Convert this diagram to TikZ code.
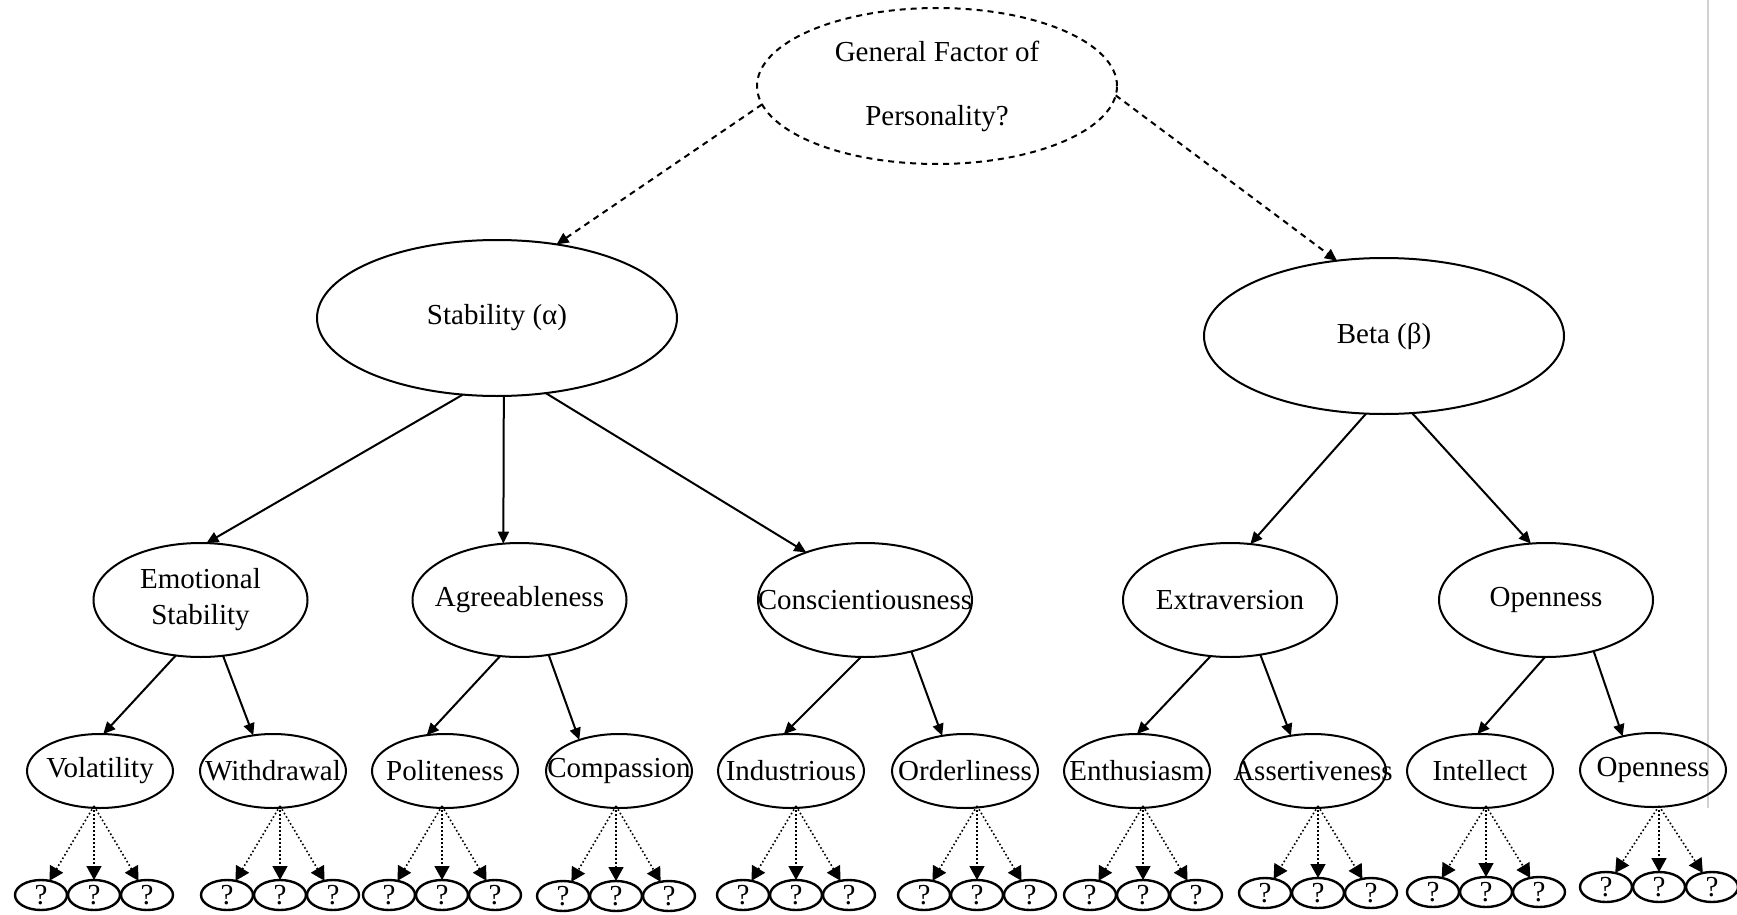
\documentclass[tikz,border=0pt]{standalone}
\usepackage{fontspec}
\setmainfont{Liberation Serif}
\usetikzlibrary{shapes.geometric,arrows.meta}

\begin{document}
\begin{tikzpicture}[x=1pt,y=-1pt,
  every node/.style={font=\fontsize{29}{36}\selectfont},
  % ellipses keep their given size whatever the text inside
  oval/.style={ellipse, draw, line width=2pt, inner xsep=-90pt, inner ysep=-45pt,
               outer sep=0pt, align=center},
  topfactor/.style={oval, minimum width=360pt, minimum height=156pt},
  guessfactor/.style={topfactor, dash pattern=on 6pt off 5pt,
               font=\fontsize{29}{64}\selectfont},
  bigfive/.style={oval, minimum width=214pt, minimum height=114pt},
  aspect/.style={oval, minimum width=146pt, minimum height=74pt},
  unknown/.style={oval, line width=2.4pt, minimum width=52pt, minimum height=30pt},
  solidarr/.style={draw, line width=2pt, -{Triangle[length=12pt,width=11pt]}},
  dasharr/.style={solidarr, dash pattern=on 6pt off 5pt},
  dotarr/.style={draw, line width=1.6pt, dash pattern=on 1.6pt off 2.4pt,
                 -{Triangle[length=14pt,width=15pt]}},
]
\useasboundingbox (0,0) rectangle (1737,915);

% page edge rule
\draw[black!18, line width=2pt] (1708,0) -- (1708,808);

% top of the hierarchy
\node[guessfactor] (gfp) at (937,86) {General Factor of\\Personality?};

% higher-order factors
\node[topfactor] (stab) at (497,318) {Stability (α)};
\node[topfactor] (beta) at (1384,336) {Beta (β)};

% Big Five domains
\node[bigfive] (emo) at (200.5,600) {Emotional\\Stability};
\node[bigfive] (agr) at (519.5,600) {Agreeableness};
\node[bigfive] (con) at (865,600) {Conscientiousness};
\node[bigfive] (ext) at (1230,600) {Extraversion};
\node[bigfive] (ope) at (1546,600) {Openness};

% aspects
\node[aspect] (vol) at (100,771) {Volatility};
\node[aspect] (wdr) at (273,771) {Withdrawal};
\node[aspect] (pol) at (445,771) {Politeness};
\node[aspect] (cmp) at (619,771) {Compassion};
\node[aspect] (ind) at (791,771) {Industrious};
\node[aspect] (ord) at (965,771) {Orderliness};
\node[aspect] (ent) at (1137,771) {Enthusiasm};
\node[aspect] (ast) at (1313,771) {Assertiveness};
\node[aspect] (itl) at (1480,771) {Intellect};
\node[aspect] (opn) at (1653,770) {Openness};

% dashed links from the general factor
\draw[dasharr] (gfp.-174) -- (stab.51.8);
\draw[dasharr] (gfp.-3.7) -- (beta.122);

% higher-order factors to domains
\draw[solidarr] (stab.-114.6) -- (emo.84);
\draw[solidarr] (stab.-85.6) -- (agr.106.8);
\draw[solidarr] (stab.-57.4) -- (con.141);
\draw[solidarr] (beta.-103.8) -- (ext.70.3);
\draw[solidarr] (beta.-70) -- (ope.105.8);

% domains to aspects
\draw[solidarr] (emo.-114.7) -- (vol.85);
\draw[solidarr] (emo.-68) -- (wdr.119);
\draw[solidarr] (agr.-109.2) -- (pol.117);
\draw[solidarr] (agr.-62.6) -- (cmp.142);
\draw[solidarr] (con.-94) -- (ind.101);
\draw[solidarr] (con.-48.5) -- (ord.123);
\draw[solidarr] (ext.-109) -- (ent.90);
\draw[solidarr] (ext.-61) -- (ast.122);
\draw[solidarr] (ope.-91) -- (itl.94);
\draw[solidarr] (ope.-47.5) -- (opn.132);

% unidentified facets under each aspect
\foreach \a/\qx/\qy in {vol/94/895, wdr/280/895, pol/442/895, cmp/616/896,
                        ind/796/895, ord/977/895, ent/1143/895, ast/1318/893,
                        itl/1486/892, opn/1659/887}{
  \coordinate (\a-o) at (\qx,806);
  \node[unknown] (\a-q1) at (\qx-53,\qy) {?};
  \node[unknown] (\a-q2) at (\qx,\qy) {?};
  \node[unknown] (\a-q3) at (\qx+53,\qy) {?};
  \draw[dotarr] (\a-o) -- (\a-q1);
  \draw[dotarr] (\a-o) -- (\a-q2);
  \draw[dotarr] (\a-o) -- (\a-q3);
}
\end{tikzpicture}
\end{document}
